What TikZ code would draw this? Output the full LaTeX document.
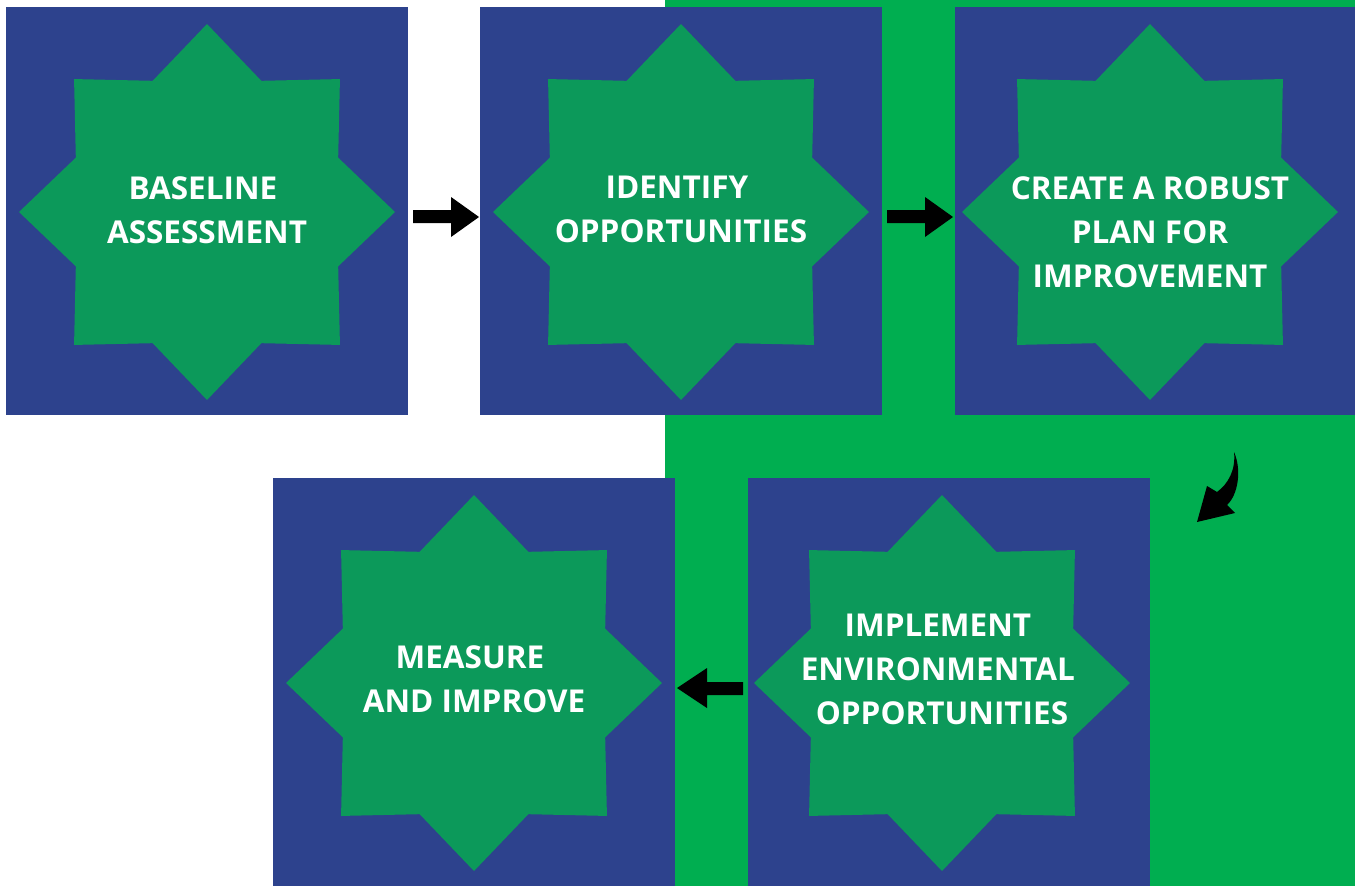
\documentclass[tikz,border=0pt]{standalone}
\usepackage{fontspec}
\setmainfont{Open Sans}
\usetikzlibrary{calc}
\definecolor{boxblue}{RGB}{45,66,141}
\definecolor{stargreen}{RGB}{12,153,90}
\definecolor{bggreen}{RGB}{0,174,80}
\tikzset{
  stepbox/.style={fill=boxblue, draw=none, minimum width=402pt, minimum height=408pt, inner sep=0pt, outer sep=0pt},
  steptext/.style={text=white, font=\bfseries\fontsize{31.5}{44}\selectfont, align=center, inner sep=0pt, anchor=north},
  blockarrow/.style={fill=black, draw=none}
}
\begin{document}
\begin{tikzpicture}[x=1pt,y=-1pt]
\useasboundingbox (0,0) rectangle (1355,886);
\fill[white] (0,0) rectangle (1355,886);
\fill[bggreen] (665,0) rectangle (1355,886);
% boxes
\node[stepbox] (b1) at (207,211) {};
\node[stepbox] (b2) at (681,211) {};
\node[stepbox] (b3) at (1156,211) {};
\node[stepbox] (b4) at (474,682) {};
\node[stepbox] (b5) at (949,682) {};
% stars
\foreach \n/\cx/\cy in {s1/207/212, s2/681/212, s3/1150/212, s4/474/683, s5/942/683}{
  \coordinate (\n) at (\cx,\cy);
  \fill[stargreen] ($(\n)+(90:188)$)
    \foreach \a/\r in {112.5/142,135/188,157.5/142,180/188,202.5/142,225/188,247.5/142,270/188,292.5/142,315/188,337.5/142,0/188,22.5/142,45/188,67.5/142}{
      -- ($(\n)+(\a:\r)$)
    } -- cycle;
}
% texts
\node[steptext] (t1) at (207,176) {BASELINE\kern.26em\\ASSESSMENT};
\node[steptext] (t2) at (681,176) {IDENTIFY\kern.26em\\OPPORTUNITIES};
\node[steptext] (t3) at (1150,176) {CREATE A ROBUST\\PLAN FOR\\IMPROVEMENT};
\node[steptext] (t4) at (474,645) {MEASURE\kern.26em\\AND IMPROVE};
\node[steptext] (t5) at (942,614) {IMPLEMENT\kern.26em\\ENVIRONMENTAL\kern.26em\\OPPORTUNITIES};
% arrows
\fill[blockarrow] (413,210) -- (451,210) -- (451,197) -- (479,217) -- (451,237) -- (451,223) -- (413,223) -- cycle;
\fill[blockarrow] (887,210) -- (925,210) -- (925,197) -- (953,217) -- (925,237) -- (925,223) -- (887,223) -- cycle;
\fill[blockarrow] (743,682) -- (707,682) -- (707,668) -- (677,688) -- (707,708) -- (707,695) -- (743,695) -- cycle;
\fill[blockarrow] (1234,452) .. controls (1242,470) and (1238,495) .. (1227,505) -- (1235,513) -- (1197,522) -- (1207,486) -- (1217,492) .. controls (1228,484) and (1236,470) .. (1234,452) -- cycle;
\end{tikzpicture}
\end{document}
